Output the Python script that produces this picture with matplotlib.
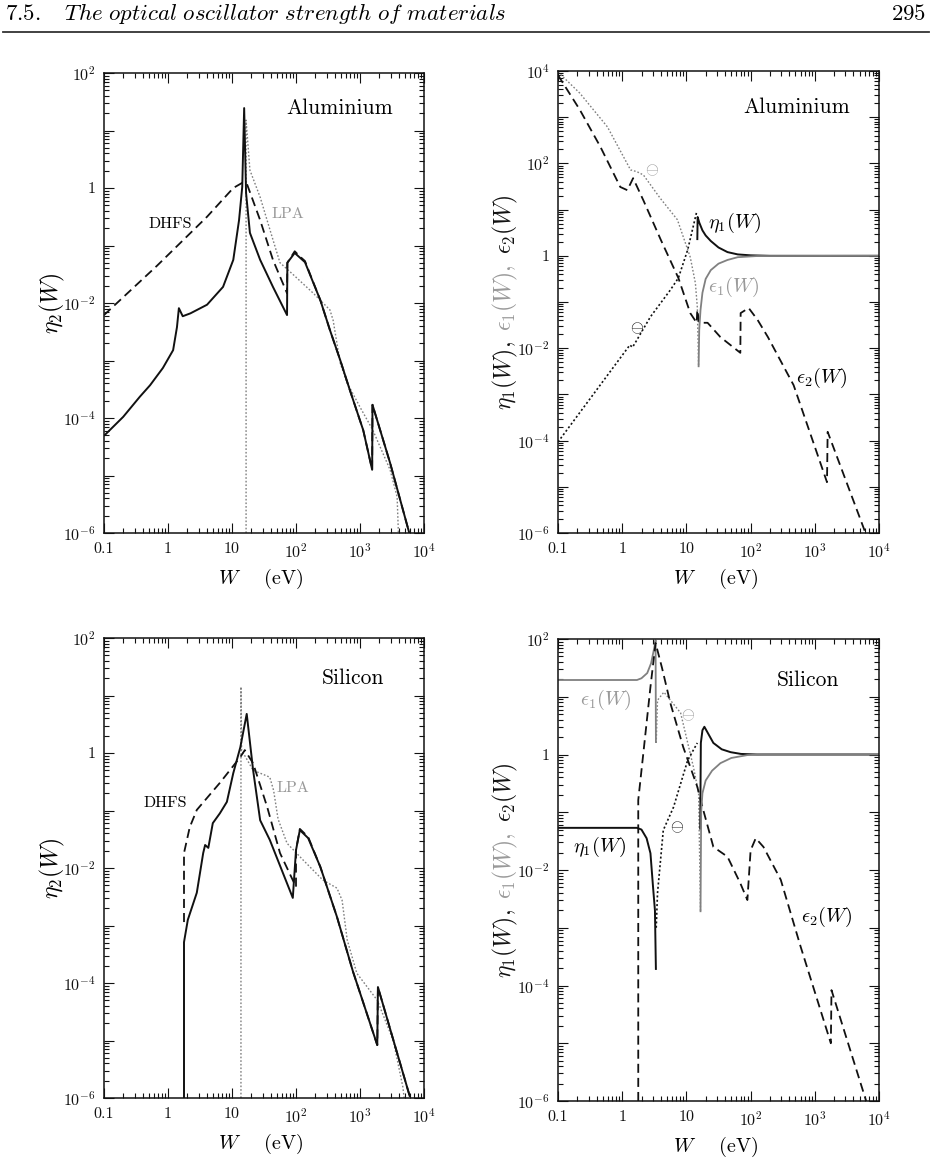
import numpy as np
import matplotlib.pyplot as plt
from matplotlib.lines import Line2D
from matplotlib.ticker import LogLocator, FuncFormatter, NullFormatter

plt.rcParams['mathtext.fontset'] = 'cm'
plt.rcParams['font.family'] = 'serif'
plt.rcParams['font.serif'] = ['cmr10']
plt.rcParams['axes.formatter.use_mathtext'] = True
plt.rcParams['axes.unicode_minus'] = False

# ---- data as log10 values ----
# Aluminium, eta_2(W)
al_w_eta2 = [-1, -0.70, -0.44, -0.28, -0.08, 0.08, 0.14, 0.17, 0.23, 0.35, 0.61, 0.86, 1.02, 1.11, 1.16,
             1.19, 1.22, 1.28, 1.44, 1.64, 1.86, 1.865, 1.98, 2.05, 2.14, 2.22, 2.38, 2.53, 2.69, 2.84,
             3.05, 3.19, 3.195, 3.47, 3.77]
al_eta2 = [-4.31, -3.98, -3.63, -3.43, -3.13, -2.82, -2.42, -2.09, -2.23, -2.18, -2.03, -1.72, -1.25, -0.56, 0.02,
           1.39, -0.09, -0.78, -1.25, -1.72, -2.21, -1.30, -1.13, -1.20, -1.29, -1.51, -1.95, -2.47, -2.99, -3.51,
           -4.21, -4.90, -3.77, -4.78, -6.0]
al_w_dhfs = [-1, -0.17, 0.61, 1.02, 1.16, 1.23, 1.44, 1.64, 1.86, 1.865, 1.98, 2.05, 2.14, 2.22, 2.38, 2.53,
             2.69, 2.84, 3.05, 3.19, 3.195, 3.47, 3.77]
al_dhfs = [-2.21, -1.35, -0.50, 0.0, 0.09, 0.08, -0.56, -1.25, -1.83, -1.30, -1.10, -1.18, -1.27, -1.50, -1.95,
           -2.47, -2.99, -3.51, -4.21, -4.90, -3.77, -4.78, -6.0]
al_w_lpa = [1.22, 1.22, 1.28, 1.44, 1.64, 1.75, 1.95, 2.27, 2.53, 2.58, 2.69, 2.80, 3.0, 3.20, 3.47, 3.58, 3.60]
al_lpa = [-6.0, 1.18, 0.31, -0.16, -0.90, -1.30, -1.50, -1.83, -2.12, -2.30, -3.04, -3.39, -3.81, -4.21, -4.90,
          -5.37, -6.0]

# Silicon, eta_2(W)
si_w_eta2 = [0.25, 0.25, 0.31, 0.45, 0.55, 0.58, 0.63, 0.70, 0.81, 0.92, 1.02, 1.13, 1.23, 1.33, 1.44, 1.59,
             1.95, 2.0, 2.06, 2.19, 2.38, 2.64, 2.89, 3.27, 3.28, 3.78]
si_eta2 = [-6.0, -3.29, -2.90, -2.43, -1.74, -1.60, -1.65, -1.22, -1.05, -0.85, -0.35, 0.10, 0.68, -0.30, -1.17,
           -1.51, -2.52, -1.69, -1.34, -1.48, -1.98, -2.85, -3.80, -5.08, -4.07, -5.98]
si_w_dhfs = [0.25, 0.25, 0.34, 0.45, 0.81, 1.13, 1.20, 1.33, 1.55, 1.75, 2.0, 2.0, 2.06, 2.19, 2.38, 2.64, 2.89,
             3.27, 3.28, 3.78]
si_dhfs = [-2.94, -1.74, -1.29, -0.99, -0.52, -0.07, 0.05, -0.18, -0.94, -1.74, -2.33, -1.69, -1.32, -1.46, -1.98,
           -2.85, -3.80, -5.08, -4.07, -5.98]
si_w_lpa = [1.14, 1.14, 1.15, 1.33, 1.59, 1.65, 1.72, 1.86, 2.11, 2.42, 2.64, 2.72, 2.80, 2.95, 3.27, 3.52, 3.67,
            3.69]
si_lpa = [-6.0, 1.15, 0.05, -0.30, -0.42, -0.65, -1.15, -1.57, -1.86, -2.21, -2.35, -2.56, -3.25, -3.83, -4.30,
          -5.0, -5.81, -6.0]

# Aluminium, dielectric functions
al_w_eps2 = [-1, -0.66, -0.34, -0.03, 0.08, 0.17, 0.33, 0.60, 0.875, 1.06, 1.16, 1.17, 1.20, 1.33, 1.53, 1.84,
             1.845, 1.97, 2.11, 2.27, 2.67, 3.19, 3.20, 3.79]
al_eps2 = [3.91, 3.16, 2.36, 1.49, 1.42, 1.68, 1.20, 0.35, -0.48, -1.24, -1.45, -1.17, -1.45, -1.45, -1.76, -2.10,
           -1.24, -1.13, -1.39, -1.76, -2.80, -4.90, -3.81, -6.0]
al_w_eta1n = [-1, 0.12, 0.16, 0.20, 0.44, 0.75, 0.875, 1.02, 1.16]
al_eta1n = [-4.03, -1.93, -1.98, -1.89, -1.32, -0.74, -0.48, 0.13, 0.95]
al_w_eta1p = [1.17, 1.175, 1.2, 1.25, 1.3, 1.38, 1.5, 1.64, 1.8, 2.0, 2.3, 4.0]
al_eta1p = [0.34, 0.84, 0.72, 0.55, 0.44, 0.32, 0.18, 0.08, 0.03, 0.01, 0.0, 0.0]
al_w_eps1n = [-1, -0.66, -0.23, 0.13, 0.23, 0.33, 0.59, 0.86, 1.06, 1.14, 1.17, 1.19]
al_eps1n = [3.98, 3.52, 2.79, 1.86, 1.82, 1.75, 1.25, 0.78, -0.03, -0.59, -1.11, -2.41]
al_w_eps1p = [1.19, 1.2, 1.22, 1.25, 1.3, 1.38, 1.5, 1.64, 1.8, 2.1, 4.0]
al_eps1p = [-2.41, -1.6, -1.17, -0.8, -0.5, -0.31, -0.17, -0.09, -0.03, -0.005, 0.0]

# Silicon, dielectric functions
si_w_eps2 = [0.25, 0.25, 0.33, 0.44, 0.52, 0.62, 0.75, 0.95, 1.17, 1.25, 1.42, 1.64, 1.84, 1.95, 2.0, 2.08, 2.20,
             2.47, 2.78, 3.25, 3.26, 3.80]
si_eps2 = [-6.0, -0.79, 0.03, 1.17, 1.93, 1.50, 0.89, 0.13, -0.56, -0.91, -1.60, -1.77, -2.23, -2.52, -1.66, -1.45,
           -1.60, -2.17, -3.33, -5.0, -4.08, -6.0]
si_w_eta1a = [-1, 0.23, 0.30, 0.38, 0.44, 0.48, 0.51, 0.525]
si_eta1a = [-1.27, -1.27, -1.30, -1.45, -1.71, -2.29, -2.7, -3.73]
si_w_eta1n = [0.53, 0.55, 0.64, 0.80, 1.02, 1.17]
si_eta1n = [-3.0, -2.40, -1.31, -0.91, -0.10, 0.20]
si_w_eta1b = [1.215, 1.225, 1.25, 1.28, 1.32, 1.42, 1.55, 1.69, 1.85, 2.1, 4.0]
si_eta1b = [-1.3, 0.2, 0.42, 0.48, 0.40, 0.20, 0.09, 0.04, 0.01, 0.0, 0.0]
si_w_eps1a = [-1, 0.23, 0.30, 0.39, 0.45, 0.50, 0.52, 0.525]
si_eps1a = [1.29, 1.29, 1.32, 1.41, 1.58, 1.85, 1.98, 0.2]
si_w_eps1n = [0.53, 0.55, 0.65, 0.91, 1.11, 1.19, 1.22]
si_eps1n = [0.2, 0.94, 1.08, 0.72, -0.22, -0.67, -2.73]
si_w_eps1b = [1.22, 1.23, 1.25, 1.3, 1.4, 1.53, 1.7, 1.95, 2.2, 4.0]
si_eps1b = [-2.73, -1.0, -0.67, -0.45, -0.28, -0.15, -0.06, -0.01, 0.0, 0.0]

xtick_labels = {-1: '0.1', 0: '1', 1: '10', 2: r'$10^2$', 3: r'$10^3$', 4: r'$10^4$'}

BLACK = '#111111'
GREY = '#808080'
GREY_TXT = '#999999'


def p(logs):
    return np.power(10.0, np.asarray(logs))


def yfmt(v, pos):
    e = int(round(np.log10(v)))
    if e % 2:
        return ''
    if e == 0:
        return '1'
    return r'$10^{%d}$' % e


def setup(ax, ylo, yhi):
    ax.set_xscale('log')
    ax.set_yscale('log')
    ax.set_xlim(0.1, 1e4)
    ax.set_ylim(10.0 ** ylo, 10.0 ** yhi)
    ax.xaxis.set_major_locator(LogLocator(base=10, subs=(1.0,), numticks=20))
    ax.xaxis.set_minor_locator(LogLocator(base=10, subs=np.arange(2, 10), numticks=20))
    ax.yaxis.set_major_locator(LogLocator(base=10, subs=(1.0,), numticks=20))
    ax.yaxis.set_minor_locator(LogLocator(base=10, subs=np.arange(2, 10), numticks=20))
    ax.xaxis.set_major_formatter(FuncFormatter(lambda v, pos: xtick_labels.get(int(round(np.log10(v))), '')))
    ax.xaxis.set_minor_formatter(NullFormatter())
    ax.yaxis.set_major_formatter(FuncFormatter(yfmt))
    ax.yaxis.set_minor_formatter(NullFormatter())
    ax.tick_params(which='both', direction='in', top=True, right=True, width=0.8, colors=BLACK,
                   labelsize=11.5)
    ax.tick_params(which='major', length=7.5)
    ax.tick_params(which='minor', length=3.5)
    ax.tick_params(axis='x', pad=7)
    ax.tick_params(axis='y', pad=6)
    for s in ax.spines.values():
        s.set_linewidth(1.1)
        s.set_color(BLACK)
    ax.text(0.49, -0.1, r'$W$    (eV)', transform=ax.transAxes, ha='center', va='center', fontsize=14.5)


def solid(ax, w, v, c=BLACK, lw=1.4):
    ax.plot(p(w), p(v), color=c, lw=lw, solid_capstyle='butt')


def dashed(ax, w, v):
    ax.plot(p(w), p(v), color=BLACK, lw=1.3, dashes=(5, 2.8))


def dotted(ax, w, v, c=BLACK, lw=1.2):
    ax.plot(p(w), p(v), color=c, lw=lw, dashes=(1.2, 1.4))


W, H = 932, 1163
fig = plt.figure(figsize=(W / 100, H / 100), dpi=100)


def axes_px(l, t, r, b):
    return fig.add_axes([l / W, 1 - b / H, (r - l) / W, (b - t) / H])


ax1 = axes_px(104, 73, 424, 533)
ax2 = axes_px(558, 71, 879, 533)
ax3 = axes_px(104, 638, 424, 1098)
ax4 = axes_px(558, 639, 879, 1101)

# --- eta_2 panels ---
for ax, wl, yl, wd, yd, wp, yp, name, pos in [
        (ax1, al_w_eta2, al_eta2, al_w_dhfs, al_dhfs, al_w_lpa, al_lpa, 'Aluminium',
         ((2.69, 1.39), (0.03, -0.63), (1.875, -0.45))),
        (ax3, si_w_eta2, si_eta2, si_w_dhfs, si_dhfs, si_w_lpa, si_lpa, 'Silicon',
         ((2.89, 1.30), (-0.05, -0.87), (1.95, -0.61)))]:
    setup(ax, -6, 2)
    dotted(ax, wp, yp, c=GREY, lw=1.0)
    dashed(ax, wd, yd)
    solid(ax, wl, yl)
    ax.text(10 ** pos[0][0], 10 ** pos[0][1], name, ha='center', va='center', fontsize=15.5)
    ax.text(10 ** pos[1][0], 10 ** pos[1][1], 'DHFS', ha='center', va='center', fontsize=11.5)
    ax.text(10 ** pos[2][0], 10 ** pos[2][1], 'LPA', ha='center', va='center', fontsize=11.5, color=GREY_TXT)
    ax.text(-0.1625, 0.5, r'$\eta_2(W)$', transform=ax.transAxes, rotation=90,
            ha='center', va='center', fontsize=17)

# --- Aluminium dielectric ---
setup(ax2, -6, 4)
dotted(ax2, al_w_eps1n, al_eps1n, c=GREY, lw=1.0)
dashed(ax2, al_w_eps2, al_eps2)
dotted(ax2, al_w_eta1n, al_eta1n)
solid(ax2, al_w_eta1p, al_eta1p)
solid(ax2, al_w_eps1p, al_eps1p, c=GREY, lw=1.3)
ax2.text(10 ** 2.72, 10 ** 3.22, 'Aluminium', ha='center', va='center', fontsize=15.5)
ax2.text(10 ** 1.33, 10 ** 0.71, r'$\eta_1(W)$', ha='left', va='center', fontsize=14.5)
ax2.text(10 ** 1.34, 10 ** -0.68, r'$\epsilon_1(W)$', ha='left', va='center', fontsize=14.5, color=GREY_TXT)
ax2.text(10 ** 2.70, 10 ** -2.65, r'$\epsilon_2(W)$', ha='left', va='center', fontsize=14.5)
ax2.text(10 ** 0.47, 10 ** 1.86, r'$\ominus$', ha='center', va='center', fontsize=12, color=GREY_TXT)
ax2.text(10 ** 0.23, 10 ** -1.56, r'$\ominus$', ha='center', va='center', fontsize=12, color=BLACK)

# --- Silicon dielectric ---
setup(ax4, -6, 2)
solid(ax4, si_w_eps1a, si_eps1a, c=GREY, lw=1.3)
dotted(ax4, si_w_eps1n, si_eps1n, c=GREY, lw=1.0)
dashed(ax4, si_w_eps2, si_eps2)
solid(ax4, si_w_eta1a, si_eta1a)
dotted(ax4, si_w_eta1n, si_eta1n)
solid(ax4, si_w_eta1b, si_eta1b)
solid(ax4, si_w_eps1b, si_eps1b, c=GREY, lw=1.3)
ax4.text(10 ** 2.89, 10 ** 1.29, 'Silicon', ha='center', va='center', fontsize=15.5)
ax4.text(10 ** -0.66, 10 ** 0.94, r'$\epsilon_1(W)$', ha='left', va='center', fontsize=14.5, color=GREY_TXT)
ax4.text(10 ** -0.77, 10 ** -1.60, r'$\eta_1(W)$', ha='left', va='center', fontsize=14.5)
ax4.text(10 ** 2.78, 10 ** -2.81, r'$\epsilon_2(W)$', ha='left', va='center', fontsize=14.5)
ax4.text(10 ** 1.02, 10 ** 0.68, r'$\ominus$', ha='center', va='center', fontsize=12, color=GREY_TXT)
ax4.text(10 ** 0.86, 10 ** -1.26, r'$\ominus$', ha='center', va='center', fontsize=12, color=BLACK)

# multi-coloured y label on the right panels
fig.canvas.draw()
rend = fig.canvas.get_renderer()
for ax in (ax2, ax4):
    parts = [(r'$\eta_1(W),$', BLACK), (r'$\epsilon_1(W),$', GREY_TXT), (r'$\epsilon_2(W)$', BLACK)]
    gap = 10
    arts = [ax.text(-0.165, 0, s, transform=ax.transAxes, rotation=90, ha='center', va='bottom',
                    fontsize=17, color=c) for s, c in parts]
    hs = [a.get_window_extent(rend).height for a in arts]
    total = sum(hs) + gap * (len(hs) - 1)
    bb = ax.get_window_extent(rend)
    y0 = bb.y0 + bb.height / 2 - total / 2
    for a, h in zip(arts, hs):
        a.set_position((-0.165, (y0 - bb.y0) / bb.height))
        y0 += h + gap

# running head
fig.text(5 / W, 1 - 14 / H, r'$\mathit{7.5.\quad The\ optical\ oscillator\ strength\ of\ materials}$',
         ha='left', va='center', fontsize=16.5)
fig.text(926 / W, 1 - 14 / H, r'$\mathit{295}$', ha='right', va='center', fontsize=16.5)
fig.add_artist(Line2D([3 / W, 929 / W], [1 - 32 / H, 1 - 32 / H], color='#333333', lw=1.3))

fig.savefig('out.png', dpi=100)
